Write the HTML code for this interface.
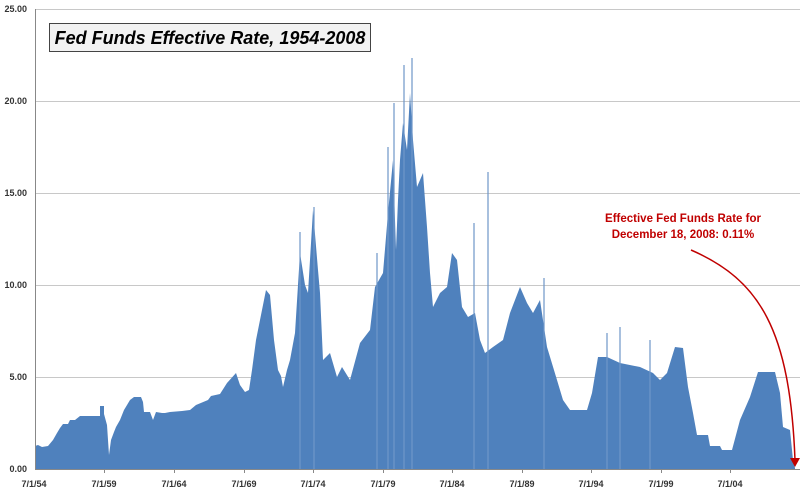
<!DOCTYPE html>
<html><head><meta charset="utf-8"><style>
html,body{margin:0;padding:0;background:#fff;}
svg{display:block;font-family:"Liberation Sans",sans-serif;}
</style></head><body>
<svg width="800" height="491" viewBox="0 0 800 491" xmlns="http://www.w3.org/2000/svg">
<g stroke="#c8c8c8" stroke-width="1">
<line x1="35" y1="9.5" x2="800" y2="9.5"/>
<line x1="35" y1="101.5" x2="800" y2="101.5"/>
<line x1="35" y1="193.5" x2="800" y2="193.5"/>
<line x1="35" y1="285.5" x2="800" y2="285.5"/>
<line x1="35" y1="377.5" x2="800" y2="377.5"/>
</g>
<g font-size="9" font-weight="bold" fill="#333" text-anchor="end">
<text x="27" y="12">25.00</text>
<text x="27" y="104">20.00</text>
<text x="27" y="196">15.00</text>
<text x="27" y="288">10.00</text>
<text x="27" y="380">5.00</text>
<text x="27" y="472">0.00</text>
</g>
<polygon fill="#4f81bd" points="35,469 35,446 38,445 42,447 48,446 53,440 57,433 60,428 63,424 68,424 70,420 75,420 80,416 100,416 100,406 104,406 104,414 107,425 108,440 109,455 111,440 114,432 116,427 120,420 124,410 130,400 134,397 141,397 143,402 144,412 150,412 153,420 156,412 162,413 165,413 170,412 182,411 190,410 196,405 208,400 211,396 220,394 227,383 236,373 240,385 245,392 249,390 252,370 256,340 262,310 266,290 270,295 274,340 278,370 281,376 283,387 287,370 290,360 295,333 300,253 305,285 308,293 313,210 318,270 320,293 323,360 330,353 337,377 342,367 350,380 360,343 370,330 375,287 383,273 388,213 393,160 396,250 398,200 400,160 403,123 407,150 410,93 413,140 417,187 420,180 423,173 427,227 430,273 433,307 440,293 447,287 452,253 457,260 462,307 468,317 475,313 480,340 485,353 493,347 503,340 510,313 520,287 527,303 533,313 540,300 547,347 557,380 563,400 570,410 577,410 587,410 592,393 598,357 607,357 620,363 640,367 653,373 660,380 667,373 675,347 683,348 688,387 693,413 697,435 708,435 710,446 720,446 722,450 732,450 740,420 750,397 758,372 775,372 780,393 783,427 790,430 793,460 795,468 795,469"/>
<g stroke="#6f97c9" stroke-width="1.2">
<line x1="394" y1="469" x2="394" y2="103"/>
<line x1="404" y1="469" x2="404" y2="65"/>
<line x1="412" y1="469" x2="412" y2="58"/>
<line x1="388" y1="469" x2="388" y2="147"/>
<line x1="474" y1="469" x2="474" y2="223"/>
<line x1="488" y1="469" x2="488" y2="172"/>
<line x1="300" y1="469" x2="300" y2="232"/>
<line x1="314" y1="469" x2="314" y2="207"/>
<line x1="544" y1="469" x2="544" y2="278"/>
<line x1="377" y1="469" x2="377" y2="253"/>
<line x1="620" y1="469" x2="620" y2="327"/>
<line x1="607" y1="469" x2="607" y2="333"/>
<line x1="650" y1="469" x2="650" y2="340"/>
</g>
<line x1="35.5" y1="9" x2="35.5" y2="469" stroke="#888"/>
<line x1="35" y1="469.5" x2="800" y2="469.5" stroke="#888"/>
<g stroke="#888">
<line x1="104.5" y1="469" x2="104.5" y2="473"/><line x1="174.5" y1="469" x2="174.5" y2="473"/>
<line x1="244.5" y1="469" x2="244.5" y2="473"/><line x1="313.5" y1="469" x2="313.5" y2="473"/>
<line x1="383.5" y1="469" x2="383.5" y2="473"/><line x1="452.5" y1="469" x2="452.5" y2="473"/>
<line x1="522.5" y1="469" x2="522.5" y2="473"/><line x1="591.5" y1="469" x2="591.5" y2="473"/>
<line x1="661.5" y1="469" x2="661.5" y2="473"/><line x1="730.5" y1="469" x2="730.5" y2="473"/>
</g>
<g font-size="9" font-weight="bold" fill="#333" text-anchor="middle">
<text x="34" y="487">7/1/54</text><text x="104" y="487">7/1/59</text>
<text x="174" y="487">7/1/64</text><text x="244" y="487">7/1/69</text>
<text x="313" y="487">7/1/74</text><text x="383" y="487">7/1/79</text>
<text x="452" y="487">7/1/84</text><text x="522" y="487">7/1/89</text>
<text x="591" y="487">7/1/94</text><text x="661" y="487">7/1/99</text>
<text x="730" y="487">7/1/04</text>
</g>
<rect x="49.5" y="23.5" width="321" height="28" fill="#f2f2f2" stroke="#444"/>
<text x="210" y="44" font-size="18" font-style="italic" font-weight="bold" text-anchor="middle" fill="#000">Fed Funds Effective Rate, 1954-2008</text>
<g font-size="11.5" font-weight="bold" fill="#c00000" text-anchor="middle">
<text x="683" y="222">Effective Fed Funds Rate for</text>
<text x="683" y="238">December 18, 2008:  0.11%</text>
</g>
<path d="M691,250 C760,280 790,330 795,460" fill="none" stroke="#c00000" stroke-width="1.5"/>
<polygon points="790,458 800,458 795,467" fill="#c00000"/>
</svg>
</body></html>
